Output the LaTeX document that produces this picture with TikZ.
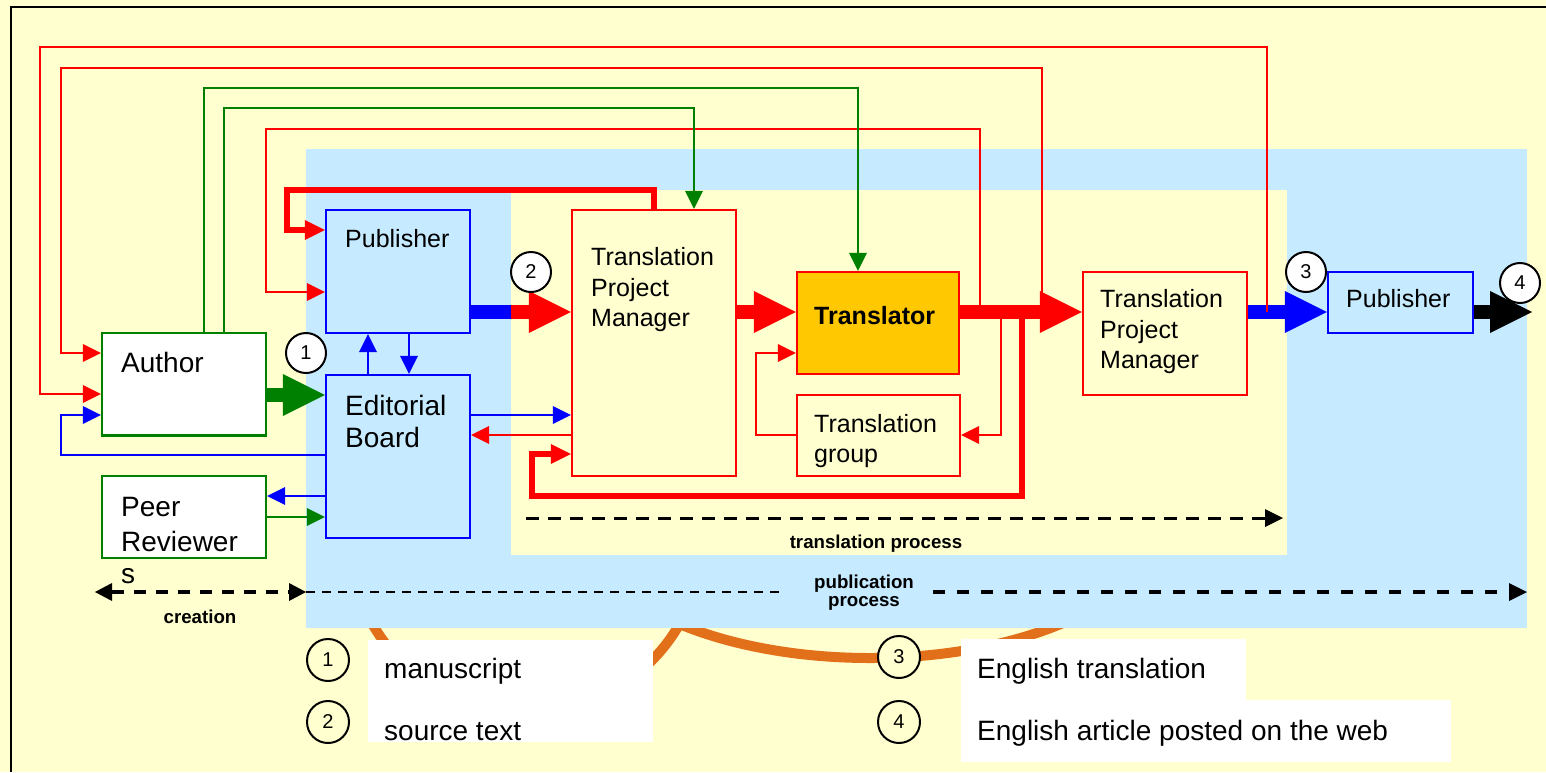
\documentclass[tikz,border=0pt]{standalone}
\usepackage{fontspec}
\setmainfont{Liberation Sans}
\usetikzlibrary{arrows.meta}
\definecolor{bgyellow}{HTML}{FFFFD0}
\definecolor{pubblue}{HTML}{C6EAFF}
\definecolor{transorange}{HTML}{FFC800}
\definecolor{arcorange}{HTML}{E2701A}
\definecolor{dgreen}{HTML}{008000}
\begin{document}
\begin{tikzpicture}[x=1pt,y=-1pt,
  gbox/.style={draw=dgreen, fill=white, line width=2.4pt, inner sep=0pt},
  bbox/.style={draw=blue, fill=pubblue, line width=2.4pt, inner sep=0pt},
  rbox/.style={draw=red, fill=bgyellow, line width=2.4pt, inner sep=0pt},
  tbox/.style={draw=red, fill=transorange, line width=2.4pt, inner sep=0pt},
  num/.style={circle, draw=black, fill=white, line width=2pt, minimum size=40pt, inner sep=0pt, font=\fontsize{20}{20}\selectfont},
  lnum/.style={num, fill=bgyellow, minimum size=42pt},
  lbl/.style={anchor=base west, inner sep=0pt, font=\fontsize{28}{28}\selectfont},
  lblm/.style={anchor=base west, inner sep=0pt, font=\fontsize{25}{25}\selectfont},
  proc/.style={anchor=base, inner sep=0pt, font=\bfseries\fontsize{18.7}{18.7}\selectfont},
  thinarr/.style={line width=2.4pt, -{Triangle[length=18pt,width=18pt,line width=0pt]}},
  looparr/.style={line width=6.5pt, -{Triangle[length=20pt,width=20pt,line width=0pt]}},
  bigarr/.style={line width=14pt, -{Triangle[length=42pt,width=42pt,line width=0pt]}},
  dtip/.style={Triangle[length=17pt,width=18pt,line width=0pt]}
]
% background
\fill[bgyellow] (0,0) rectangle (1546,772);
\useasboundingbox (0,0) rectangle (1546,772);
\draw[line width=2.5pt] (11,772) -- (11,7) -- (1546,7);
% orange arcs (behind regions)
\draw[arcorange, line width=10pt] (526,536) circle [radius=177];
\draw[arcorange, line width=10pt] (870,520) ellipse [x radius=290, y radius=138];
% regions
\fill[pubblue] (306,149) rectangle (1527,628);
\fill[bgyellow] (511,190) rectangle (1287,555);
% legend white boxes
\fill[white] (368,640) rectangle (653,742);
\fill[white] (960.5,639) rectangle (1246,700);
\fill[white] (960.5,700) rectangle (1451,762);

% boxes
\node[gbox, minimum width=164pt, minimum height=102.5pt] (author) at (184,384.25) {};
\node[gbox, minimum width=164pt, minimum height=82pt] (peer) at (184,517) {};
\node[bbox, minimum width=144pt, minimum height=123pt] (pub1) at (398,271.5) {};
\node[bbox, minimum width=144pt, minimum height=163pt] (eb) at (398,456.5) {};
\node[rbox, minimum width=164pt, minimum height=266pt] (tpm1) at (654,343) {};
\node[tbox, minimum width=162pt, minimum height=102pt] (trans) at (878,323) {};
\node[rbox, minimum width=163pt, minimum height=81pt] (tg) at (878.5,435.5) {};
\node[rbox, minimum width=164pt, minimum height=123pt] (tpm2) at (1165,333.5) {};
\node[bbox, minimum width=145pt, minimum height=61pt] (pub2) at (1400.5,302.5) {};

% box texts
\node[lblm] (tPub1) at (345,247) {Publisher};
\node[lbl] (tAuthor) at (121,372) {Author};
\node[lbl] (tEb1) at (345,415) {Editorial};
\node[lbl] (tEb2) at (345,447) {Board};
\node[lbl] (tPeer1) at (121,516) {Peer};
\node[lbl] (tPeer2) at (121,551) {Reviewer};
\node[lbl] (tPeer3) at (121,583) {s};
\node[lblm] (tTpm1a) at (591,265) {Translation};
\node[lblm] (tTpm1b) at (591,296.5) {Project};
\node[lblm] (tTpm1c) at (591,326) {Manager};
\node[lblm, font=\bfseries\fontsize{25}{25}\selectfont] (tTrans) at (814,324) {Translator};
\node[lblm] (tTg1) at (814,432) {Translation};
\node[lblm] (tTg2) at (814,462) {group};
\node[lblm] (tTpm2a) at (1100,307) {Translation};
\node[lblm] (tTpm2b) at (1100,338) {Project};
\node[lblm] (tTpm2c) at (1100,368) {Manager};
\node[lblm] (tPub2) at (1346,307) {Publisher};

% helper coordinates
\coordinate (flowR) at (0,312);
\coordinate (r1s) at (1267,312);
\coordinate (r2s) at (1042,312);
\coordinate (r3s) at (980,312);
\coordinate (tgs) at (1001,312);
\coordinate (lps) at (1022,312);
\coordinate (bluejoin) at (511,312);
\coordinate (blkend) at (1532,312);

% big flow arrows
\draw[dgreen, bigarr] (author.east |- 0,395) -- (eb.west |- 0,395);
\draw[blue, line width=14pt] (pub1.east |- flowR) -- (bluejoin);
\draw[red, bigarr] (bluejoin) -- (tpm1.west |- flowR);
\draw[red, bigarr] (tpm1.east |- flowR) -- (trans.west |- flowR);
\draw[red, bigarr] (trans.east |- flowR) -- (tpm2.west |- flowR);
\draw[blue, bigarr] (tpm2.east |- flowR) -- (pub2.west |- flowR);
\draw[black, bigarr] (pub2.east |- flowR) -- (blkend);

% thick loops
\draw[red, looparr] (tpm1.north -| 654,0) -- (654,190) -- (287,190) -- (287,230) -- (pub1.west |- 0,230);
\draw[red, looparr] (lps) -- (1022,496) -- (532,496) -- (532,454) -- (tpm1.west |- 0,454);

% thin connectors
\draw[red, thinarr] (r1s) -- (1267,47) -- (40,47) -- (40,394) -- (author.west |- 0,394);
\draw[red, thinarr] (r2s) -- (1042,68) -- (61,68) -- (61,353) -- (author.west |- 0,353);
\draw[red, thinarr] (r3s) -- (980,129) -- (266,129) -- (266,292) -- (pub1.west |- 0,292);
\draw[dgreen, thinarr] (author.north -| 204,0) -- (204,88) -- (858,88) -- (trans.north -| 858,0);
\draw[dgreen, thinarr] (author.north -| 224,0) -- (224,108) -- (694,108) -- (tpm1.north -| 694,0);
\draw[blue, thinarr] (eb.west |- 0,455) -- (61,455) -- (61,415) -- (author.west |- 0,415);
\draw[blue, thinarr] (eb.west |- 0,496) -- (peer.east |- 0,496);
\draw[dgreen, thinarr] (peer.east |- 0,517) -- (eb.west |- 0,517);
\draw[blue, thinarr] (eb.north -| 368,0) -- (pub1.south -| 368,0);
\draw[blue, thinarr] (pub1.south -| 409,0) -- (eb.north -| 409,0);
\draw[blue, thinarr] (eb.east |- 0,415) -- (tpm1.west |- 0,415);
\draw[red, thinarr] (tpm1.west |- 0,435) -- (eb.east |- 0,435);
\draw[red, thinarr] (tg.west |- 0,435) -- (756,435) -- (756,353) -- (trans.west |- 0,353);
\draw[red, thinarr] (tgs) -- (1001,435) -- (tg.east |- 0,435);

% numbered circles
\node[num] (n1) at (306,353) {1};
\node[num] (n2) at (531,272) {2};
\node[num] (n3) at (1306,272) {3};
\node[num] (n4) at (1520,283) {4};

% process arrows
\coordinate (creL) at (95,592);
\coordinate (creR) at (306,592);
\coordinate (pubM1) at (782,592);
\coordinate (pubM2) at (933,592);
\coordinate (pubE) at (1527,592);
\coordinate (trS) at (526,518);
\coordinate (trE) at (1283,518);
\draw[black, line width=3.3pt, dash pattern=on 12pt off 10pt, {Triangle[length=17pt,width=18pt,line width=0pt]}-{Triangle[length=17pt,width=18pt,line width=0pt]}] (creL) -- (creR);
\draw[black, line width=2pt, dash pattern=on 9pt off 7pt] (creR) -- (pubM1);
\draw[black, line width=3.3pt, dash pattern=on 12pt off 12pt, -{Triangle[length=18pt,width=18pt,line width=0pt]}] (pubM2) -- (pubE);
\draw[black, line width=3pt, dash pattern=on 13pt off 9pt, -{Triangle[length=18pt,width=18pt,line width=0pt]}] (trS) -- (trE);
\node[proc] (tCre) at (200,623) {creation};
\node[proc] (tTrp) at (876,548) {translation process};
\node[proc] (tPubp1) at (864,588) {publication};
\node[proc] (tPubp2) at (864,606) {process};

% legend
\node[lnum] (l1) at (328,660) {1};
\node[lnum] (l2) at (328,722) {2};
\node[lnum] (l3) at (899,657) {3};
\node[lnum] (l4) at (899,722) {4};
\node[lbl] (tL1) at (384,678) {manuscript};
\node[lbl] (tL2) at (384,740) {source text};
\node[lbl] (tL3) at (977,678) {English translation};
\node[lbl] (tL4) at (977,740) {English article posted on the web};
\end{tikzpicture}
\end{document}
